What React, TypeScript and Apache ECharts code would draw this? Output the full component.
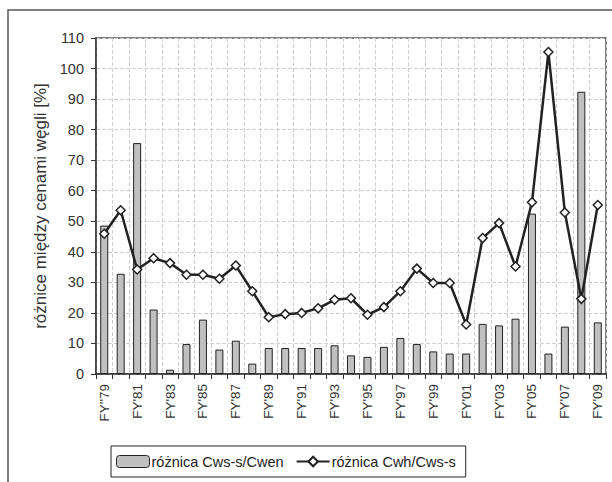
import React, { useEffect, useRef } from "react";
import * as echarts from "echarts";

const categories = [
  "FY''79", "FY'80", "FY'81", "FY'82", "FY'83", "FY'84", "FY'85", "FY'86", "FY'87", "FY'88",
  "FY'89", "FY'90", "FY'91", "FY'92", "FY'93", "FY'94", "FY'95", "FY'96", "FY'97", "FY'98",
  "FY'99", "FY'00", "FY'01", "FY'02", "FY'03", "FY'04", "FY'05", "FY'06", "FY'07", "FY'08", "FY'09",
];

const barValues = [
  48.6, 32.8, 75.6, 21.1, 1.4, 9.8, 17.8, 8.0, 10.9, 3.4,
  8.5, 8.5, 8.5, 8.5, 9.4, 6.1, 5.6, 8.9, 11.8, 9.8,
  7.4, 6.7, 6.7, 16.4, 15.9, 18.1, 52.5, 6.7, 15.5, 92.4, 16.9,
];

const lineValues = [
  45.9, 53.6, 34.2, 37.9, 36.3, 32.5, 32.5, 31.2, 35.5, 27.1,
  18.6, 19.6, 20.0, 21.5, 24.3, 24.8, 19.4, 21.9, 27.1, 34.5,
  29.8, 29.8, 16.2, 44.5, 49.4, 35.2, 56.2, 105.4, 52.9, 24.6, 55.3,
];

const barName = "różnica Cws-s/Cwen";
const lineName = "różnica Cwh/Cws-s";
const yAxisName = "różnice między cenami węgli [%]";

export default function App() {
  const ref = useRef<HTMLDivElement>(null);
  useEffect(() => {
    if (!ref.current) return;
    const chart = echarts.init(ref.current, undefined, { renderer: "svg" });
    chart.setOption({
      animation: false,
      backgroundColor: "#fff",
      textStyle: { fontFamily: "Liberation Sans, Arial, sans-serif" },
      graphic: [
        {
          type: "rect",
          shape: { x: 8, y: 10, width: 620, height: 500 },
          style: { fill: "none", stroke: "#555", lineWidth: 1.5 },
          silent: true,
        },
      ],
      grid: { left: 96, right: 6, top: 38, bottom: 108, show: true, borderColor: "#555", borderWidth: 1.5, backgroundColor: "transparent" },
      legend: {
        left: 111,
        top: 446,
        padding: [8, 10, 8, 5],
        itemGap: 12,
        borderColor: "#222",
        borderWidth: 1,
        textStyle: { fontSize: 14.5, color: "#222", fontFamily: "Liberation Sans, Arial, sans-serif", padding: [0, 0, 0, -3] },
        data: [
          { name: barName, itemStyle: { color: "#c0c0c0", borderColor: "#222", borderWidth: 1 } },
          { name: lineName },
        ],
        itemWidth: 33,
        itemHeight: 12,
      },
      xAxis: {
        type: "category",
        data: categories,
        boundaryGap: true,
        axisLine: { lineStyle: { color: "#333", width: 1.5 } },
        axisTick: { show: true, interval: 0, length: 5, lineStyle: { color: "#333" } },
        axisLabel: { interval: 1, rotate: 90, fontSize: 13.5, color: "#333", margin: 10 },
        splitLine: { show: true, interval: 0, lineStyle: { color: "#cfcfcf", type: "dashed", width: 1 } },
      },
      yAxis: {
        type: "value",
        min: 0,
        max: 110,
        interval: 10,
        name: yAxisName,
        nameLocation: "middle",
        nameGap: 46,
        nameTextStyle: { fontSize: 17, color: "#333" },
        axisLine: { show: true, lineStyle: { color: "#333", width: 1.5 } },
        axisTick: { show: true, length: 5, lineStyle: { color: "#333" } },
        axisLabel: { fontSize: 14.5, color: "#333", margin: 12 },
        splitLine: { show: true, lineStyle: { color: "#cfcfcf", type: "dashed", width: 1 } },
      },
      series: [
        {
          name: barName,
          type: "bar",
          data: barValues,
          barWidth: 8,
          itemStyle: { color: "#c0c0c0", borderColor: "#222", borderWidth: 1 },
          z: 2,
        },
        {
          name: lineName,
          type: "line",
          data: lineValues,
          symbol: "diamond",
          symbolSize: 9,
          showAllSymbol: true,
          lineStyle: { color: "#222", width: 2.5 },
          itemStyle: { color: "#fff", borderColor: "#222", borderWidth: 1.5 },
          z: 3,
        },
      ],
    });
    return () => chart.dispose();
  }, []);
  return <div ref={ref} style={{ position: "fixed", left: 0, top: 0, width: 612, height: 482 }} />;
}
